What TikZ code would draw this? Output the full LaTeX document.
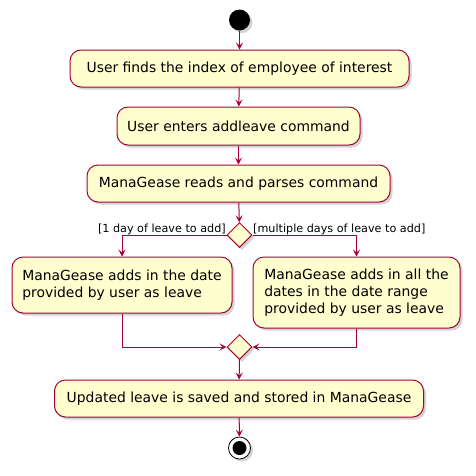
\documentclass[tikz,border=0pt]{standalone}
\usepackage{fontspec}
\setmainfont{DejaVu Sans}
\usepackage{xcolor}
\usetikzlibrary{arrows.meta,shadows,shapes.geometric}

\definecolor{umlred}{HTML}{A80036}
\definecolor{umlfill}{HTML}{FEFECE}

\begin{document}
\begin{tikzpicture}
      [ x=1pt, y=-1pt
      , action/.style={draw=umlred, fill=umlfill, line width=1pt, rounded corners=11pt,
          font=\fontsize{13.9}{17}\selectfont, align=left, inner sep=0pt,
          drop shadow={shadow xshift=2.5pt, shadow yshift=-2.5pt, opacity=0.35}}
      , choice/.style={diamond, draw=umlred, fill=umlfill, line width=1pt, inner sep=0pt,
          minimum width=25pt, minimum height=25pt,
          drop shadow={shadow xshift=2.5pt, shadow yshift=-2.5pt, opacity=0.35}}
      , guard/.style={font=\fontsize{11.2}{13}\selectfont, inner sep=0pt}
      , flow/.style={draw=umlred, line width=1pt, -{Stealth[length=7pt, width=7pt, inset=3pt]}}
      ]
    \useasboundingbox (0,0) rectangle (476,475);

    \node (start) [circle, fill=black, minimum size=21pt, inner sep=0pt,
      drop shadow={shadow xshift=2.5pt, shadow yshift=-2.5pt, opacity=0.35}] at (239.5,20) {};

    \node (find) [action, minimum width=339pt, minimum height=37pt] at (239.5,68.5)
      {User finds the index of employee of interest};
    \node (enter) [action, minimum width=243pt, minimum height=38pt] at (238.5,126)
      {User enters addleave command};
    \node (parse) [action, minimum width=303pt, minimum height=37pt] at (238.5,183.5)
      {ManaGease reads and parses command};

    \node (split) [choice] at (239.5,235) {};
    \node [guard, anchor=base east] at (226,232) {[1 day of leave to add]};
    \node [guard, anchor=base west] at (253,232) {[multiple days of leave to add]};

    \node (single) [action, minimum width=220pt, minimum height=56pt] at (122,285)
      {ManaGease adds in the date\\provided by user as leave};
    \node (range) [action, minimum width=207pt, minimum height=71pt] at (356.5,292.5)
      {ManaGease adds in all the\\dates in the date range\\provided by user as leave};

    \node (merge) [choice] at (239.5,347) {};

    \node (save) [action, minimum width=369pt, minimum height=37pt] at (239,398.5)
      {Updated leave is saved and stored in ManaGease};

    \node (stop) [circle, draw=black, fill=white, line width=0.8pt, minimum size=22pt, inner sep=0pt,
      drop shadow={shadow xshift=2.5pt, shadow yshift=-2.5pt, opacity=0.35}] at (239.5,448) {};
    \fill[black] (stop.center) circle (7pt);

    \draw[flow] (start) -- (find);
    \draw[flow] (find) -- (enter);
    \draw[flow] (enter) -- (parse);
    \draw[flow] (parse) -- (split);

    \draw[flow] (split.west) -| (single.north);
    \draw[flow] (split.east) -| (range.north);

    \draw[flow] (single.south) |- (merge.west);
    \draw[flow] (range.south) |- (merge.east);

    \draw[flow] (merge) -- (save);
    \draw[flow] (save) -- (stop);
\end{tikzpicture}
\end{document}
